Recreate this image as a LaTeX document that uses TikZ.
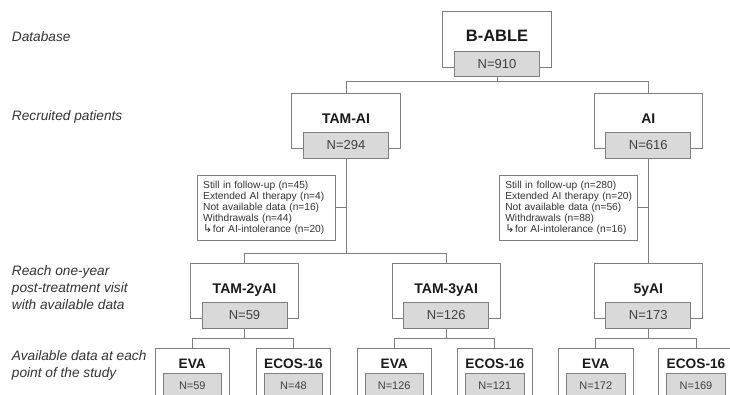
\documentclass[tikz,border=0pt]{standalone}
\usepackage{fontspec}
\setmainfont{Liberation Sans}
\newfontfamily\dejavu{DejaVu Sans}
\definecolor{linegray}{HTML}{7F7F7F}
\definecolor{boxgray}{HTML}{D9D9D9}
\definecolor{ntext}{HTML}{404040}
\definecolor{ttext}{HTML}{1A1A1A}
\definecolor{ltext}{HTML}{333333}
\tikzset{
 outerbox/.style={draw=linegray, line width=0.8pt, fill=white, minimum width=108.5pt, minimum height=55.5pt, inner sep=0pt},
 titletext/.style={font=\bfseries\fontsize{14}{14}\selectfont, text=ttext, inner sep=0pt, text height=10pt, text depth=0pt},
 graybox/.style={draw=linegray, line width=0.8pt, fill=boxgray, minimum width=85pt, minimum height=25.5pt, inner sep=0pt, font=\fontsize{13}{13}\selectfont, text=ntext, text height=9.3pt, text depth=0pt},
 smallouter/.style={outerbox, minimum width=74.5pt, minimum height=48pt},
 smalltitle/.style={titletext, font=\bfseries\fontsize{13.7}{14}\selectfont, text height=9.8pt},
 smallgray/.style={graybox, minimum width=58.5pt, minimum height=25pt, font=\fontsize{11}{11}\selectfont, text height=7.9pt},
 sidebox/.style={draw=linegray, line width=0.8pt, fill=white, minimum width=138pt, minimum height=64.3pt, inner xsep=5.5pt, inner ysep=0pt, text width=127pt, align=left, font=\fontsize{10.2}{10.9}\selectfont, text=ltext},
 leftlabel/.style={anchor=west, inner sep=0pt, align=left, font=\itshape\fontsize{13.7}{16.8}\selectfont, text=ltext},
 conn/.style={draw=linegray, line width=0.8pt},
}
\newcommand\bigbox[5]{%
 \node[outerbox] (#1) at (#2,#3+27.75) {};
 \node[titletext] (#1-t) at (#2,#3+25.3) {#4};
 \node[graybox] (#1-n) at (#2,#3+52) {#5};
}
\newcommand\smallbox[5]{%
 \node[smallouter] (#1) at (#2,#3+24) {};
 \node[smalltitle] (#1-t) at (#2,#3+15) {#4};
 \node[smallgray] (#1-n) at (#2,#3+37.5) {#5};
}
\newcommand\hookarrow{{\dejavu\fontsize{11}{10}\selectfont ↳}\kern0.5pt}
\begin{document}
\begin{tikzpicture}[x=1pt,y=-1pt]
\useasboundingbox (0,0) rectangle (730,395);
\clip (0,0) rectangle (730,395);

% left labels
\node[leftlabel] (lab1) at (11.7,36.7) {Database};
\node[leftlabel] (lab2) at (11.7,116.5) {Recruited patients};
\node[leftlabel] (lab3) at (11.7,287.5) {Reach one-year\\post-treatment visit\\with available data};
\node[leftlabel] (lab4) at (11.7,365.7) {Available data at each\\point of the study};

% level 1
\bigbox{babl}{497}{11.7}{\fontsize{16.5}{16.5}\selectfont B-ABLE}{N=910}
% level 2
\bigbox{tamai}{346}{93.3}{TAM-AI}{N=294}
\bigbox{ai}{648.3}{93.3}{AI}{N=616}
% level 3
\bigbox{tam2}{244.5}{263.3}{TAM-2yAI}{N=59}
\bigbox{tam3}{446.2}{263.3}{TAM-3yAI}{N=126}
\bigbox{y5}{648.3}{263.3}{5yAI}{N=173}
% level 4
\smallbox{eva1}{192.3}{348.3}{EVA}{N=59}
\smallbox{ecos1}{293.5}{348.3}{ECOS-16}{N=48}
\smallbox{eva2}{394.2}{348.3}{EVA}{N=126}
\smallbox{ecos2}{494.8}{348.3}{ECOS-16}{N=121}
\smallbox{eva3}{595.8}{348.3}{EVA}{N=172}
\smallbox{ecos3}{696}{348.3}{ECOS-16}{N=169}

% side boxes
\node[sidebox] (side1) at (266.7,207.9) {Still in follow-up (n=45)\\Extended AI therapy (n=4)\\Not available data (n=16)\\Withdrawals (n=44)\\\hookarrow for AI-intolerance (n=20)};
\node[sidebox] (side2) at (568.85,207.9) {Still in follow-up (n=280)\\Extended AI therapy (n=20)\\Not available data (n=56)\\Withdrawals (n=88)\\\hookarrow for AI-intolerance (n=16)};

% connectors
\coordinate (bus1) at (497,81.7);
\draw[conn] (babl-n.south) -- (bus1);
\draw[conn] (tamai.north) |- (bus1) -| (ai.north);

\coordinate (bus2) at (346,253.3);
\draw[conn] (tamai-n.south) -- (bus2);
\draw[conn] (tam2.north) |- (bus2) -| (tam3.north);
\draw[conn] (ai-n.south) -- (y5.north);

\draw[conn] (side1.east) -- (side1.east -| tamai-n.south);
\draw[conn] (side2.east) -- (side2.east -| ai-n.south);

\coordinate (bus3a) at (244.5,338.3);
\coordinate (bus3b) at (446.2,338.3);
\coordinate (bus3c) at (648.3,338.3);
\draw[conn] (tam2-n.south) -- (bus3a);
\draw[conn] (eva1.north) |- (bus3a) -| (ecos1.north);
\draw[conn] (tam3-n.south) -- (bus3b);
\draw[conn] (eva2.north) |- (bus3b) -| (ecos2.north);
\draw[conn] (y5-n.south) -- (bus3c);
\draw[conn] (eva3.north) |- (bus3c) -| (ecos3.north);
\end{tikzpicture}
\end{document}
